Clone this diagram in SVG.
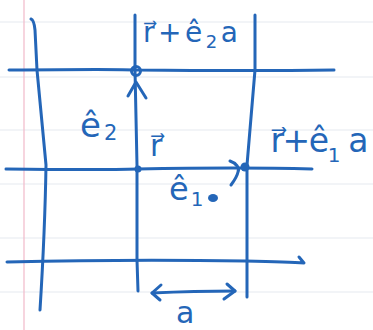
<svg xmlns="http://www.w3.org/2000/svg" width="373" height="330" viewBox="0 0 373 330">
<style>
.ink{fill:none;stroke:#2466b8;stroke-width:3;stroke-linecap:round;stroke-linejoin:round}
.dot{fill:#2466b8}
.lbl{fill:#2466b8;font-family:"DejaVu Sans","Liberation Sans",sans-serif}
.paper{stroke:#e6e9ef;stroke-width:1.2}
</style>
<rect width="373" height="330" fill="#ffffff"/>
<g id="paper">
<line class="paper" x1="0" y1="22" x2="373" y2="22"/>
<line class="paper" x1="0" y1="77" x2="373" y2="77"/>
<line class="paper" x1="0" y1="130" x2="373" y2="130"/>
<line class="paper" x1="0" y1="184" x2="373" y2="184"/>
<line class="paper" x1="0" y1="238" x2="373" y2="238"/>
<line class="paper" x1="0" y1="292" x2="373" y2="292"/>
<line x1="24" y1="0" x2="24" y2="330" stroke="#f1b9c9" stroke-width="1.2"/>
</g>
<g id="connectors">
<path class="ink" d="M31,19 Q34,20 35,30 L37,70 L46,165 Q45,230 40,310"/>
<path class="ink" d="M135,15 L135,70 L137,165 L137,260 L138,291"/>
<path class="ink" d="M255,15 L255,70 L247,165 L247,297"/>
<path class="ink" d="M9,70 Q120,69 137,70 Q250,71 334,70"/>
<path class="ink" d="M6,169 Q100,170 138,169 Q240,167 312,169"/>
<path class="ink" d="M7,262 Q130,259 245,261 Q290,262 304,263 L299,257"/>
<polyline class="ink" points="128,96 136,82 146,98"/>
<path class="ink" d="M230,161 C236,163 240,168 238,172 C237,177 234,181 231,185"/>
<path class="ink" d="M152,293 Q195,291 235,291"/>
<polyline class="ink" points="161,285 152,293 160,300"/>
<polyline class="ink" points="227,284 235,291 224,299"/>
</g>
<g id="points">
<circle cx="136" cy="71" r="4.5" fill="none" stroke="#2466b8" stroke-width="3"/>
<circle class="dot" cx="138" cy="169" r="3.5"/>
<circle class="dot" cx="245" cy="167" r="4.5"/>
<ellipse class="dot" cx="213" cy="198" rx="5" ry="4"/>
</g>
<g id="label-r-plus-e2a">
<text class="lbl" x="143" y="42" font-size="28" textLength="95" lengthAdjust="spacing">r⃗+ê<tspan font-size="18" dy="6">2</tspan><tspan dy="-6">a</tspan></text>
</g>
<g id="label-e2">
<text class="lbl" x="80" y="137" font-size="34">ê<tspan font-size="21" dy="3" dx="3">2</tspan></text>
</g>
<g id="label-r">
<text class="lbl" x="150" y="156" font-size="30">r⃗</text>
</g>
<g id="label-r-plus-e1a">
<text class="lbl" x="269" y="152" font-size="33" textLength="98" lengthAdjust="spacing">r⃗+ê<tspan font-size="20" dy="10">1</tspan><tspan dy="-10"> a</tspan></text>
</g>
<g id="label-e1">
<text class="lbl" x="169" y="200" font-size="32">ê<tspan font-size="20" dy="6" dx="2">1</tspan></text>
</g>
<g id="label-a">
<text class="lbl" x="176" y="323" font-size="30">a</text>
</g>
</svg>
